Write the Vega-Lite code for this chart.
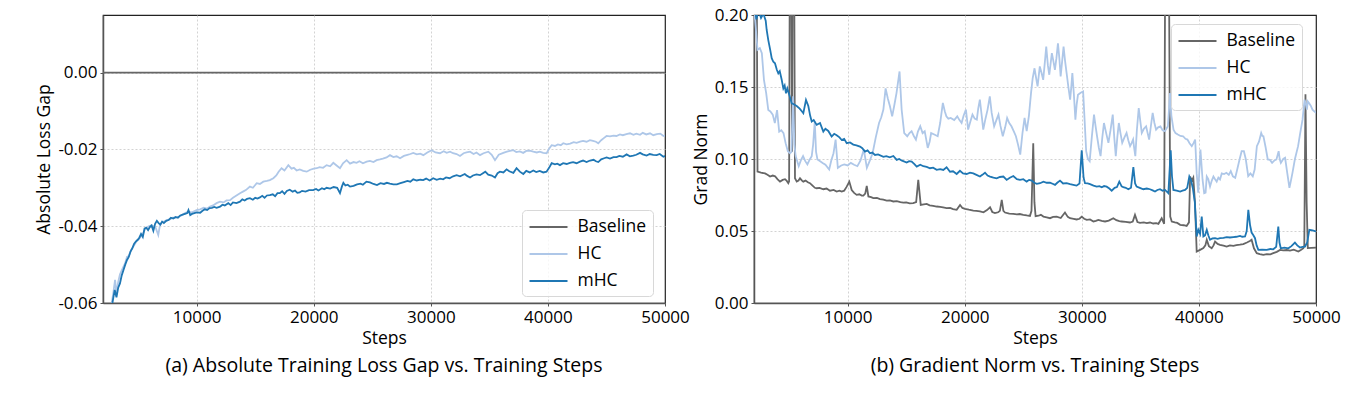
{
 "$schema": "https://vega.github.io/schema/vega-lite/v6.json",
 "background": "white",
 "autosize": {"type": "pad"},
 "padding": {"left": 35, "top": 5, "right": 5, "bottom": 5},
 "bounds": "flush",
 "spacing": 89,
 "config": {
  "font": "Open Sans",
  "view": {"stroke": "#222", "strokeWidth": 1.2},
  "axis": {"labelFontSize": 17, "titleFontSize": 17.5, "titleFontWeight": "normal", "labelColor": "#000", "titleColor": "#000", "domainColor": "#555", "domainWidth": 1.5, "tickColor": "#555", "tickSize": 3, "labelPadding": 3, "gridColor": "#c8c8c8", "gridDash": [2, 2], "gridWidth": 0.8},
  "legend": {"labelFontSize": 17.5, "labelColor": "#000", "fillColor": "rgba(255,255,255,0.8)", "strokeColor": "#d8d8d8", "cornerRadius": 4, "padding": 6, "rowPadding": 7, "symbolType": "M-2,0H2", "symbolSize": 361, "symbolStrokeWidth": 2.2, "symbolOffset": 9.5, "labelOffset": 18, "title": null}
 },
 "datasets": {
  "loss": [
   {"s":2000,"g":"Baseline","v":0},{"s":50000,"g":"Baseline","v":0},
   {"s":2750,"g":"HC","v":-0.060},{"s":2900,"g":"HC","v":-0.057},{"s":3030,"g":"HC","v":-0.054},{"s":3150,"g":"HC","v":-0.0575},{"s":3300,"g":"HC","v":-0.0545},{"s":3450,"g":"HC","v":-0.0525},{"s":3600,"g":"HC","v":-0.0515},{"s":3750,"g":"HC","v":-0.0505},{"s":3880,"g":"HC","v":-0.0497},{"s":4050,"g":"HC","v":-0.048},{"s":4200,"g":"HC","v":-0.0478},{"s":4400,"g":"HC","v":-0.0462},{"s":4590,"g":"HC","v":-0.0453},{"s":4750,"g":"HC","v":-0.0445},{"s":4900,"g":"HC","v":-0.0437},{"s":5050,"g":"HC","v":-0.0434},{"s":5200,"g":"HC","v":-0.0428},{"s":5400,"g":"HC","v":-0.042},{"s":5550,"g":"HC","v":-0.041},{"s":5700,"g":"HC","v":-0.0404},{"s":5900,"g":"HC","v":-0.04},{"s":6100,"g":"HC","v":-0.0398},{"s":6300,"g":"HC","v":-0.04},{"s":6500,"g":"HC","v":-0.0404},{"s":6720,"g":"HC","v":-0.0423},{"s":6850,"g":"HC","v":-0.04},{"s":7000,"g":"HC","v":-0.039},{"s":7200,"g":"HC","v":-0.0388},{"s":7440,"g":"HC","v":-0.0384},{"s":7700,"g":"HC","v":-0.0382},{"s":7950,"g":"HC","v":-0.0378},{"s":8200,"g":"HC","v":-0.0378},{"s":8450,"g":"HC","v":-0.0376},{"s":8700,"g":"HC","v":-0.0372},{"s":9000,"g":"HC","v":-0.0366},{"s":9300,"g":"HC","v":-0.0362},{"s":9600,"g":"HC","v":-0.0364},{"s":9990,"g":"HC","v":-0.0358},{"s":10300,"g":"HC","v":-0.0356},{"s":10600,"g":"HC","v":-0.0352},{"s":10900,"g":"HC","v":-0.0354},{"s":11140,"g":"HC","v":-0.0349},{"s":11400,"g":"HC","v":-0.0346},{"s":11700,"g":"HC","v":-0.034},{"s":11990,"g":"HC","v":-0.0336},{"s":12300,"g":"HC","v":-0.0338},{"s":12550,"g":"HC","v":-0.0333},{"s":12850,"g":"HC","v":-0.0332},{"s":13100,"g":"HC","v":-0.0326},{"s":13400,"g":"HC","v":-0.032},{"s":13700,"g":"HC","v":-0.0314},{"s":13950,"g":"HC","v":-0.031},{"s":14200,"g":"HC","v":-0.0306},{"s":14550,"g":"HC","v":-0.0297},{"s":14800,"g":"HC","v":-0.03},{"s":15130,"g":"HC","v":-0.0288},{"s":15400,"g":"HC","v":-0.029},{"s":15690,"g":"HC","v":-0.0284},{"s":16000,"g":"HC","v":-0.0282},{"s":16250,"g":"HC","v":-0.028},{"s":16550,"g":"HC","v":-0.0275},{"s":16800,"g":"HC","v":-0.0268},{"s":17000,"g":"HC","v":-0.0258},{"s":17250,"g":"HC","v":-0.0249},{"s":17500,"g":"HC","v":-0.0255},{"s":17830,"g":"HC","v":-0.0241},{"s":18100,"g":"HC","v":-0.025},{"s":18300,"g":"HC","v":-0.0248},{"s":18540,"g":"HC","v":-0.0255},{"s":18800,"g":"HC","v":-0.0252},{"s":19100,"g":"HC","v":-0.0256},{"s":19400,"g":"HC","v":-0.0258},{"s":19700,"g":"HC","v":-0.0253},{"s":20000,"g":"HC","v":-0.025},{"s":20250,"g":"HC","v":-0.0249},{"s":20500,"g":"HC","v":-0.0246},{"s":20800,"g":"HC","v":-0.0248},{"s":21100,"g":"HC","v":-0.0241},{"s":21400,"g":"HC","v":-0.0244},{"s":21670,"g":"HC","v":-0.0235},{"s":21950,"g":"HC","v":-0.0242},{"s":22240,"g":"HC","v":-0.0249},{"s":22500,"g":"HC","v":-0.0236},{"s":22810,"g":"HC","v":-0.0228},{"s":23100,"g":"HC","v":-0.0237},{"s":23400,"g":"HC","v":-0.0233},{"s":23660,"g":"HC","v":-0.0235},{"s":23900,"g":"HC","v":-0.0231},{"s":24200,"g":"HC","v":-0.0236},{"s":24520,"g":"HC","v":-0.0232},{"s":24800,"g":"HC","v":-0.023},{"s":25100,"g":"HC","v":-0.0233},{"s":25370,"g":"HC","v":-0.0228},{"s":25650,"g":"HC","v":-0.0226},{"s":25900,"g":"HC","v":-0.0224},{"s":26220,"g":"HC","v":-0.0221},{"s":26510,"g":"HC","v":-0.0215},{"s":26800,"g":"HC","v":-0.022},{"s":27080,"g":"HC","v":-0.0218},{"s":27370,"g":"HC","v":-0.0223},{"s":27700,"g":"HC","v":-0.0217},{"s":28000,"g":"HC","v":-0.0214},{"s":28250,"g":"HC","v":-0.0212},{"s":28500,"g":"HC","v":-0.0209},{"s":28800,"g":"HC","v":-0.0213},{"s":29100,"g":"HC","v":-0.0211},{"s":29360,"g":"HC","v":-0.0215},{"s":29700,"g":"HC","v":-0.0208},{"s":30070,"g":"HC","v":-0.0202},{"s":30400,"g":"HC","v":-0.0208},{"s":30780,"g":"HC","v":-0.021},{"s":31100,"g":"HC","v":-0.0205},{"s":31350,"g":"HC","v":-0.0209},{"s":31640,"g":"HC","v":-0.0206},{"s":31900,"g":"HC","v":-0.021},{"s":32200,"g":"HC","v":-0.0212},{"s":32490,"g":"HC","v":-0.0217},{"s":32800,"g":"HC","v":-0.021},{"s":33050,"g":"HC","v":-0.0208},{"s":33350,"g":"HC","v":-0.0206},{"s":33650,"g":"HC","v":-0.0212},{"s":33900,"g":"HC","v":-0.0208},{"s":34200,"g":"HC","v":-0.0215},{"s":34500,"g":"HC","v":-0.021},{"s":34910,"g":"HC","v":-0.0206},{"s":35200,"g":"HC","v":-0.0214},{"s":35480,"g":"HC","v":-0.0228},{"s":35800,"g":"HC","v":-0.0214},{"s":36190,"g":"HC","v":-0.0209},{"s":36500,"g":"HC","v":-0.0206},{"s":36750,"g":"HC","v":-0.0204},{"s":37050,"g":"HC","v":-0.0202},{"s":37300,"g":"HC","v":-0.0207},{"s":37600,"g":"HC","v":-0.0205},{"s":37890,"g":"HC","v":-0.0209},{"s":38150,"g":"HC","v":-0.0204},{"s":38450,"g":"HC","v":-0.0203},{"s":38750,"g":"HC","v":-0.0206},{"s":39050,"g":"HC","v":-0.0208},{"s":39300,"g":"HC","v":-0.0206},{"s":39600,"g":"HC","v":-0.0209},{"s":39890,"g":"HC","v":-0.021},{"s":40100,"g":"HC","v":-0.0198},{"s":40320,"g":"HC","v":-0.0189},{"s":40600,"g":"HC","v":-0.0191},{"s":40850,"g":"HC","v":-0.0187},{"s":41100,"g":"HC","v":-0.0189},{"s":41310,"g":"HC","v":-0.0184},{"s":41600,"g":"HC","v":-0.0187},{"s":41900,"g":"HC","v":-0.0185},{"s":42200,"g":"HC","v":-0.0181},{"s":42450,"g":"HC","v":-0.0183},{"s":42750,"g":"HC","v":-0.018},{"s":43000,"g":"HC","v":-0.0178},{"s":43300,"g":"HC","v":-0.018},{"s":43590,"g":"HC","v":-0.0176},{"s":43850,"g":"HC","v":-0.0178},{"s":44100,"g":"HC","v":-0.018},{"s":44300,"g":"HC","v":-0.0184},{"s":44550,"g":"HC","v":-0.0176},{"s":44800,"g":"HC","v":-0.017},{"s":45010,"g":"HC","v":-0.0165},{"s":45300,"g":"HC","v":-0.0166},{"s":45600,"g":"HC","v":-0.0164},{"s":45850,"g":"HC","v":-0.0165},{"s":46150,"g":"HC","v":-0.0161},{"s":46400,"g":"HC","v":-0.0163},{"s":46700,"g":"HC","v":-0.016},{"s":47010,"g":"HC","v":-0.0158},{"s":47300,"g":"HC","v":-0.0162},{"s":47550,"g":"HC","v":-0.0159},{"s":47870,"g":"HC","v":-0.0162},{"s":48100,"g":"HC","v":-0.0157},{"s":48400,"g":"HC","v":-0.0161},{"s":48720,"g":"HC","v":-0.0158},{"s":49000,"g":"HC","v":-0.0163},{"s":49300,"g":"HC","v":-0.016},{"s":49600,"g":"HC","v":-0.0159},{"s":49860,"g":"HC","v":-0.0165},{"s":50000,"g":"HC","v":-0.0163},
   {"s":2700,"g":"mHC","v":-0.062},{"s":2850,"g":"mHC","v":-0.0592},{"s":3000,"g":"mHC","v":-0.0566},{"s":3150,"g":"mHC","v":-0.0585},{"s":3300,"g":"mHC","v":-0.056},{"s":3450,"g":"mHC","v":-0.0549},{"s":3600,"g":"mHC","v":-0.0528},{"s":3750,"g":"mHC","v":-0.0514},{"s":3900,"g":"mHC","v":-0.05},{"s":4050,"g":"mHC","v":-0.0488},{"s":4200,"g":"mHC","v":-0.048},{"s":4350,"g":"mHC","v":-0.0466},{"s":4500,"g":"mHC","v":-0.0458},{"s":4650,"g":"mHC","v":-0.0446},{"s":4800,"g":"mHC","v":-0.044},{"s":4950,"g":"mHC","v":-0.0436},{"s":5100,"g":"mHC","v":-0.043},{"s":5250,"g":"mHC","v":-0.042},{"s":5400,"g":"mHC","v":-0.0428},{"s":5550,"g":"mHC","v":-0.0406},{"s":5700,"g":"mHC","v":-0.0404},{"s":5850,"g":"mHC","v":-0.041},{"s":6000,"g":"mHC","v":-0.0402},{"s":6150,"g":"mHC","v":-0.0398},{"s":6300,"g":"mHC","v":-0.0412},{"s":6450,"g":"mHC","v":-0.0394},{"s":6600,"g":"mHC","v":-0.0386},{"s":6750,"g":"mHC","v":-0.0392},{"s":6900,"g":"mHC","v":-0.0396},{"s":7050,"g":"mHC","v":-0.0388},{"s":7200,"g":"mHC","v":-0.0392},{"s":7400,"g":"mHC","v":-0.0386},{"s":7600,"g":"mHC","v":-0.0384},{"s":7800,"g":"mHC","v":-0.0378},{"s":8000,"g":"mHC","v":-0.038},{"s":8200,"g":"mHC","v":-0.0376},{"s":8400,"g":"mHC","v":-0.0378},{"s":8600,"g":"mHC","v":-0.0372},{"s":8800,"g":"mHC","v":-0.037},{"s":9000,"g":"mHC","v":-0.0368},{"s":9200,"g":"mHC","v":-0.0366},{"s":9300,"g":"mHC","v":-0.0358},{"s":9450,"g":"mHC","v":-0.0371},{"s":9600,"g":"mHC","v":-0.0368},{"s":9800,"g":"mHC","v":-0.0366},{"s":10000,"g":"mHC","v":-0.0364},{"s":10300,"g":"mHC","v":-0.0365},{"s":10500,"g":"mHC","v":-0.036},{"s":10700,"g":"mHC","v":-0.0356},{"s":10900,"g":"mHC","v":-0.0358},{"s":11100,"g":"mHC","v":-0.0353},{"s":11300,"g":"mHC","v":-0.0352},{"s":11500,"g":"mHC","v":-0.035},{"s":11700,"g":"mHC","v":-0.0352},{"s":12000,"g":"mHC","v":-0.0349},{"s":12200,"g":"mHC","v":-0.0344},{"s":12400,"g":"mHC","v":-0.0346},{"s":12700,"g":"mHC","v":-0.034},{"s":12900,"g":"mHC","v":-0.0345},{"s":13100,"g":"mHC","v":-0.0338},{"s":13400,"g":"mHC","v":-0.034},{"s":13700,"g":"mHC","v":-0.0336},{"s":13900,"g":"mHC","v":-0.033},{"s":14100,"g":"mHC","v":-0.0333},{"s":14300,"g":"mHC","v":-0.0329},{"s":14550,"g":"mHC","v":-0.0327},{"s":14800,"g":"mHC","v":-0.0331},{"s":15000,"g":"mHC","v":-0.0326},{"s":15200,"g":"mHC","v":-0.0328},{"s":15400,"g":"mHC","v":-0.0325},{"s":15600,"g":"mHC","v":-0.0321},{"s":15800,"g":"mHC","v":-0.0326},{"s":16000,"g":"mHC","v":-0.032},{"s":16250,"g":"mHC","v":-0.0319},{"s":16500,"g":"mHC","v":-0.0317},{"s":16700,"g":"mHC","v":-0.0322},{"s":16900,"g":"mHC","v":-0.0314},{"s":17100,"g":"mHC","v":-0.0314},{"s":17300,"g":"mHC","v":-0.0309},{"s":17500,"g":"mHC","v":-0.0316},{"s":17700,"g":"mHC","v":-0.0308},{"s":17950,"g":"mHC","v":-0.0305},{"s":18200,"g":"mHC","v":-0.031},{"s":18400,"g":"mHC","v":-0.0307},{"s":18600,"g":"mHC","v":-0.0313},{"s":18800,"g":"mHC","v":-0.0312},{"s":19000,"g":"mHC","v":-0.0308},{"s":19300,"g":"mHC","v":-0.031},{"s":19600,"g":"mHC","v":-0.0306},{"s":19950,"g":"mHC","v":-0.0306},{"s":20200,"g":"mHC","v":-0.0303},{"s":20400,"g":"mHC","v":-0.0307},{"s":20700,"g":"mHC","v":-0.0301},{"s":20900,"g":"mHC","v":-0.0304},{"s":21100,"g":"mHC","v":-0.03},{"s":21400,"g":"mHC","v":-0.0302},{"s":21700,"g":"mHC","v":-0.0298},{"s":22000,"g":"mHC","v":-0.03},{"s":22240,"g":"mHC","v":-0.0314},{"s":22400,"g":"mHC","v":-0.0297},{"s":22530,"g":"mHC","v":-0.0287},{"s":22700,"g":"mHC","v":-0.0294},{"s":22900,"g":"mHC","v":-0.0292},{"s":23100,"g":"mHC","v":-0.0297},{"s":23400,"g":"mHC","v":-0.0295},{"s":23700,"g":"mHC","v":-0.0291},{"s":24000,"g":"mHC","v":-0.0289},{"s":24200,"g":"mHC","v":-0.0292},{"s":24500,"g":"mHC","v":-0.0284},{"s":24800,"g":"mHC","v":-0.0286},{"s":25100,"g":"mHC","v":-0.029},{"s":25400,"g":"mHC","v":-0.0293},{"s":25700,"g":"mHC","v":-0.0288},{"s":26000,"g":"mHC","v":-0.029},{"s":26250,"g":"mHC","v":-0.0287},{"s":26500,"g":"mHC","v":-0.0289},{"s":26800,"g":"mHC","v":-0.0291},{"s":27100,"g":"mHC","v":-0.0291},{"s":27400,"g":"mHC","v":-0.0288},{"s":27700,"g":"mHC","v":-0.0285},{"s":28000,"g":"mHC","v":-0.0282},{"s":28250,"g":"mHC","v":-0.0284},{"s":28500,"g":"mHC","v":-0.0278},{"s":28800,"g":"mHC","v":-0.0281},{"s":29100,"g":"mHC","v":-0.0279},{"s":29350,"g":"mHC","v":-0.028},{"s":29600,"g":"mHC","v":-0.0276},{"s":29900,"g":"mHC","v":-0.0281},{"s":30200,"g":"mHC","v":-0.0275},{"s":30500,"g":"mHC","v":-0.0279},{"s":30800,"g":"mHC","v":-0.0276},{"s":31050,"g":"mHC","v":-0.0278},{"s":31300,"g":"mHC","v":-0.0273},{"s":31600,"g":"mHC","v":-0.0275},{"s":31900,"g":"mHC","v":-0.027},{"s":32200,"g":"mHC","v":-0.0267},{"s":32500,"g":"mHC","v":-0.027},{"s":32900,"g":"mHC","v":-0.0264},{"s":33100,"g":"mHC","v":-0.0269},{"s":33350,"g":"mHC","v":-0.0273},{"s":33600,"g":"mHC","v":-0.0268},{"s":33900,"g":"mHC","v":-0.0265},{"s":34200,"g":"mHC","v":-0.0267},{"s":34450,"g":"mHC","v":-0.0262},{"s":34650,"g":"mHC","v":-0.0258},{"s":34900,"g":"mHC","v":-0.0266},{"s":35200,"g":"mHC","v":-0.0268},{"s":35480,"g":"mHC","v":-0.0273},{"s":35700,"g":"mHC","v":-0.0262},{"s":35900,"g":"mHC","v":-0.0258},{"s":36200,"g":"mHC","v":-0.026},{"s":36470,"g":"mHC","v":-0.0252},{"s":36700,"g":"mHC","v":-0.0257},{"s":37050,"g":"mHC","v":-0.0261},{"s":37320,"g":"mHC","v":-0.0249},{"s":37600,"g":"mHC","v":-0.0258},{"s":37900,"g":"mHC","v":-0.0264},{"s":38150,"g":"mHC","v":-0.0256},{"s":38450,"g":"mHC","v":-0.026},{"s":38750,"g":"mHC","v":-0.0255},{"s":39000,"g":"mHC","v":-0.0259},{"s":39300,"g":"mHC","v":-0.0256},{"s":39600,"g":"mHC","v":-0.026},{"s":39880,"g":"mHC","v":-0.0258},{"s":40100,"g":"mHC","v":-0.0248},{"s":40320,"g":"mHC","v":-0.0236},{"s":40600,"g":"mHC","v":-0.0239},{"s":40800,"g":"mHC","v":-0.0237},{"s":41030,"g":"mHC","v":-0.0241},{"s":41300,"g":"mHC","v":-0.0236},{"s":41600,"g":"mHC","v":-0.0238},{"s":41880,"g":"mHC","v":-0.0235},{"s":42150,"g":"mHC","v":-0.0233},{"s":42450,"g":"mHC","v":-0.0236},{"s":42740,"g":"mHC","v":-0.0232},{"s":43000,"g":"mHC","v":-0.0229},{"s":43300,"g":"mHC","v":-0.0233},{"s":43600,"g":"mHC","v":-0.0229},{"s":43900,"g":"mHC","v":-0.0227},{"s":44100,"g":"mHC","v":-0.0231},{"s":44300,"g":"mHC","v":-0.0233},{"s":44550,"g":"mHC","v":-0.0226},{"s":44800,"g":"mHC","v":-0.0223},{"s":45010,"g":"mHC","v":-0.0221},{"s":45300,"g":"mHC","v":-0.0224},{"s":45600,"g":"mHC","v":-0.022},{"s":45870,"g":"mHC","v":-0.022},{"s":46100,"g":"mHC","v":-0.0217},{"s":46400,"g":"mHC","v":-0.0219},{"s":46720,"g":"mHC","v":-0.0213},{"s":47000,"g":"mHC","v":-0.0218},{"s":47290,"g":"mHC","v":-0.0216},{"s":47550,"g":"mHC","v":-0.0214},{"s":47870,"g":"mHC","v":-0.0209},{"s":48100,"g":"mHC","v":-0.0213},{"s":48430,"g":"mHC","v":-0.0216},{"s":48700,"g":"mHC","v":-0.0212},{"s":49000,"g":"mHC","v":-0.0214},{"s":49290,"g":"mHC","v":-0.0215},{"s":49550,"g":"mHC","v":-0.0212},{"s":49860,"g":"mHC","v":-0.0219},{"s":50000,"g":"mHC","v":-0.0217}
  ],
  "grad": [
   {"s":2000,"g":"Baseline","v":0.3},{"s":2200,"g":"Baseline","v":0.3},{"s":2300,"g":"Baseline","v":0.0912},{"s":2600,"g":"Baseline","v":0.0905},{"s":2940,"g":"Baseline","v":0.09},{"s":3150,"g":"Baseline","v":0.089},{"s":3370,"g":"Baseline","v":0.0878},{"s":3600,"g":"Baseline","v":0.0885},{"s":3800,"g":"Baseline","v":0.088},{"s":4000,"g":"Baseline","v":0.086},{"s":4220,"g":"Baseline","v":0.0843},{"s":4450,"g":"Baseline","v":0.0855},{"s":4650,"g":"Baseline","v":0.086},{"s":4800,"g":"Baseline","v":0.0848},{"s":4930,"g":"Baseline","v":0.0832},{"s":5000,"g":"Baseline","v":0.0845},{"s":5080,"g":"Baseline","v":0.3},{"s":5150,"g":"Baseline","v":0.3},{"s":5250,"g":"Baseline","v":0.105},{"s":5320,"g":"Baseline","v":0.3},{"s":5400,"g":"Baseline","v":0.3},{"s":5500,"g":"Baseline","v":0.0866},{"s":5650,"g":"Baseline","v":0.0843},{"s":5800,"g":"Baseline","v":0.085},{"s":5930,"g":"Baseline","v":0.0866},{"s":6100,"g":"Baseline","v":0.085},{"s":6210,"g":"Baseline","v":0.0843},{"s":6400,"g":"Baseline","v":0.085},{"s":6600,"g":"Baseline","v":0.0838},{"s":6780,"g":"Baseline","v":0.0832},{"s":7000,"g":"Baseline","v":0.0815},{"s":7200,"g":"Baseline","v":0.08},{"s":7350,"g":"Baseline","v":0.0797},{"s":7600,"g":"Baseline","v":0.08},{"s":7920,"g":"Baseline","v":0.079},{"s":8200,"g":"Baseline","v":0.0795},{"s":8490,"g":"Baseline","v":0.078},{"s":8800,"g":"Baseline","v":0.0785},{"s":9060,"g":"Baseline","v":0.0774},{"s":9300,"g":"Baseline","v":0.078},{"s":9490,"g":"Baseline","v":0.0774},{"s":9700,"g":"Baseline","v":0.078},{"s":9920,"g":"Baseline","v":0.0808},{"s":10140,"g":"Baseline","v":0.0843},{"s":10345,"g":"Baseline","v":0.0785},{"s":10550,"g":"Baseline","v":0.0765},{"s":10770,"g":"Baseline","v":0.0751},{"s":11000,"g":"Baseline","v":0.0755},{"s":11200,"g":"Baseline","v":0.0746},{"s":11340,"g":"Baseline","v":0.0746},{"s":11500,"g":"Baseline","v":0.076},{"s":11630,"g":"Baseline","v":0.0813},{"s":11770,"g":"Baseline","v":0.074},{"s":12000,"g":"Baseline","v":0.0735},{"s":12190,"g":"Baseline","v":0.0728},{"s":12500,"g":"Baseline","v":0.073},{"s":12760,"g":"Baseline","v":0.0722},{"s":13050,"g":"Baseline","v":0.0718},{"s":13330,"g":"Baseline","v":0.0711},{"s":13600,"g":"Baseline","v":0.0712},{"s":13900,"g":"Baseline","v":0.0705},{"s":14200,"g":"Baseline","v":0.0708},{"s":14500,"g":"Baseline","v":0.07},{"s":14750,"g":"Baseline","v":0.0697},{"s":15000,"g":"Baseline","v":0.0699},{"s":15300,"g":"Baseline","v":0.0692},{"s":15600,"g":"Baseline","v":0.0693},{"s":15850,"g":"Baseline","v":0.07},{"s":16030,"g":"Baseline","v":0.0855},{"s":16240,"g":"Baseline","v":0.0681},{"s":16500,"g":"Baseline","v":0.0685},{"s":16750,"g":"Baseline","v":0.0688},{"s":17000,"g":"Baseline","v":0.0678},{"s":17300,"g":"Baseline","v":0.0675},{"s":17600,"g":"Baseline","v":0.067},{"s":17900,"g":"Baseline","v":0.0668},{"s":18150,"g":"Baseline","v":0.0664},{"s":18450,"g":"Baseline","v":0.0659},{"s":18750,"g":"Baseline","v":0.066},{"s":19000,"g":"Baseline","v":0.0652},{"s":19310,"g":"Baseline","v":0.0647},{"s":19600,"g":"Baseline","v":0.0681},{"s":19800,"g":"Baseline","v":0.066},{"s":20020,"g":"Baseline","v":0.0654},{"s":20350,"g":"Baseline","v":0.0648},{"s":20730,"g":"Baseline","v":0.0642},{"s":21000,"g":"Baseline","v":0.064},{"s":21300,"g":"Baseline","v":0.0636},{"s":21600,"g":"Baseline","v":0.063},{"s":21900,"g":"Baseline","v":0.0645},{"s":22160,"g":"Baseline","v":0.0665},{"s":22350,"g":"Baseline","v":0.0632},{"s":22580,"g":"Baseline","v":0.0624},{"s":22850,"g":"Baseline","v":0.063},{"s":23000,"g":"Baseline","v":0.064},{"s":23160,"g":"Baseline","v":0.0716},{"s":23300,"g":"Baseline","v":0.064},{"s":23440,"g":"Baseline","v":0.0628},{"s":23800,"g":"Baseline","v":0.062},{"s":24150,"g":"Baseline","v":0.0619},{"s":24450,"g":"Baseline","v":0.0615},{"s":24700,"g":"Baseline","v":0.0618},{"s":25000,"g":"Baseline","v":0.0612},{"s":25300,"g":"Baseline","v":0.0608},{"s":25570,"g":"Baseline","v":0.0605},{"s":25700,"g":"Baseline","v":0.064},{"s":25850,"g":"Baseline","v":0.111},{"s":25950,"g":"Baseline","v":0.07},{"s":26050,"g":"Baseline","v":0.0603},{"s":26300,"g":"Baseline","v":0.0606},{"s":26500,"g":"Baseline","v":0.0612},{"s":26720,"g":"Baseline","v":0.06},{"s":27000,"g":"Baseline","v":0.0595},{"s":27280,"g":"Baseline","v":0.0589},{"s":27550,"g":"Baseline","v":0.0598},{"s":27850,"g":"Baseline","v":0.06},{"s":28200,"g":"Baseline","v":0.059},{"s":28560,"g":"Baseline","v":0.0628},{"s":28800,"g":"Baseline","v":0.0598},{"s":28990,"g":"Baseline","v":0.0589},{"s":29300,"g":"Baseline","v":0.0585},{"s":29560,"g":"Baseline","v":0.058},{"s":29800,"g":"Baseline","v":0.0585},{"s":29990,"g":"Baseline","v":0.06},{"s":30200,"g":"Baseline","v":0.0585},{"s":30420,"g":"Baseline","v":0.0577},{"s":30700,"g":"Baseline","v":0.058},{"s":30990,"g":"Baseline","v":0.0566},{"s":31200,"g":"Baseline","v":0.057},{"s":31410,"g":"Baseline","v":0.0577},{"s":31700,"g":"Baseline","v":0.057},{"s":31980,"g":"Baseline","v":0.0566},{"s":32300,"g":"Baseline","v":0.0572},{"s":32690,"g":"Baseline","v":0.0589},{"s":32950,"g":"Baseline","v":0.0575},{"s":33200,"g":"Baseline","v":0.0568},{"s":33400,"g":"Baseline","v":0.0566},{"s":33750,"g":"Baseline","v":0.0563},{"s":34110,"g":"Baseline","v":0.0559},{"s":34350,"g":"Baseline","v":0.0565},{"s":34540,"g":"Baseline","v":0.0612},{"s":34750,"g":"Baseline","v":0.0562},{"s":34970,"g":"Baseline","v":0.0556},{"s":35300,"g":"Baseline","v":0.056},{"s":35550,"g":"Baseline","v":0.0555},{"s":35820,"g":"Baseline","v":0.0559},{"s":36100,"g":"Baseline","v":0.0552},{"s":36350,"g":"Baseline","v":0.0555},{"s":36540,"g":"Baseline","v":0.055},{"s":36820,"g":"Baseline","v":0.0589},{"s":37030,"g":"Baseline","v":0.055},{"s":37150,"g":"Baseline","v":0.3},{"s":37400,"g":"Baseline","v":0.3},{"s":37550,"g":"Baseline","v":0.06},{"s":37680,"g":"Baseline","v":0.0566},{"s":37950,"g":"Baseline","v":0.056},{"s":38150,"g":"Baseline","v":0.0556},{"s":38400,"g":"Baseline","v":0.0543},{"s":38700,"g":"Baseline","v":0.054},{"s":38950,"g":"Baseline","v":0.0535},{"s":39150,"g":"Baseline","v":0.056},{"s":39250,"g":"Baseline","v":0.0878},{"s":39400,"g":"Baseline","v":0.085},{"s":39520,"g":"Baseline","v":0.087},{"s":39660,"g":"Baseline","v":0.07},{"s":39810,"g":"Baseline","v":0.0357},{"s":40100,"g":"Baseline","v":0.0369},{"s":40380,"g":"Baseline","v":0.0381},{"s":40550,"g":"Baseline","v":0.04},{"s":40670,"g":"Baseline","v":0.0439},{"s":40850,"g":"Baseline","v":0.0395},{"s":41090,"g":"Baseline","v":0.0381},{"s":41250,"g":"Baseline","v":0.04},{"s":41380,"g":"Baseline","v":0.0427},{"s":41600,"g":"Baseline","v":0.041},{"s":41800,"g":"Baseline","v":0.0404},{"s":42100,"g":"Baseline","v":0.0398},{"s":42370,"g":"Baseline","v":0.0392},{"s":42650,"g":"Baseline","v":0.04},{"s":42940,"g":"Baseline","v":0.0397},{"s":43200,"g":"Baseline","v":0.0402},{"s":43500,"g":"Baseline","v":0.0405},{"s":43790,"g":"Baseline","v":0.0409},{"s":44100,"g":"Baseline","v":0.042},{"s":44350,"g":"Baseline","v":0.043},{"s":44500,"g":"Baseline","v":0.0439},{"s":44700,"g":"Baseline","v":0.038},{"s":44940,"g":"Baseline","v":0.0346},{"s":45200,"g":"Baseline","v":0.034},{"s":45500,"g":"Baseline","v":0.0334},{"s":45800,"g":"Baseline","v":0.034},{"s":46100,"g":"Baseline","v":0.0338},{"s":46350,"g":"Baseline","v":0.0346},{"s":46650,"g":"Baseline","v":0.0355},{"s":46930,"g":"Baseline","v":0.0369},{"s":47200,"g":"Baseline","v":0.0365},{"s":47500,"g":"Baseline","v":0.0368},{"s":47780,"g":"Baseline","v":0.0364},{"s":48100,"g":"Baseline","v":0.037},{"s":48490,"g":"Baseline","v":0.0357},{"s":48700,"g":"Baseline","v":0.0368},{"s":48920,"g":"Baseline","v":0.0381},{"s":49000,"g":"Baseline","v":0.04},{"s":49100,"g":"Baseline","v":0.145},{"s":49200,"g":"Baseline","v":0.07},{"s":49300,"g":"Baseline","v":0.0381},{"s":49600,"g":"Baseline","v":0.0383},{"s":50000,"g":"Baseline","v":0.0385},
   {"s":2000,"g":"HC","v":0.2},{"s":2100,"g":"HC","v":0.1965},{"s":2300,"g":"HC","v":0.1758},{"s":2500,"g":"HC","v":0.177},{"s":2670,"g":"HC","v":0.1735},{"s":2850,"g":"HC","v":0.155},{"s":3040,"g":"HC","v":0.1458},{"s":3220,"g":"HC","v":0.134},{"s":3400,"g":"HC","v":0.133},{"s":3600,"g":"HC","v":0.1308},{"s":3780,"g":"HC","v":0.125},{"s":3970,"g":"HC","v":0.134},{"s":4150,"g":"HC","v":0.119},{"s":4330,"g":"HC","v":0.12},{"s":4520,"g":"HC","v":0.118},{"s":4700,"g":"HC","v":0.111},{"s":4890,"g":"HC","v":0.1054},{"s":5080,"g":"HC","v":0.104},{"s":5200,"g":"HC","v":0.105},{"s":5340,"g":"HC","v":0.1435},{"s":5450,"g":"HC","v":0.11},{"s":5560,"g":"HC","v":0.102},{"s":5820,"g":"HC","v":0.095},{"s":6000,"g":"HC","v":0.099},{"s":6190,"g":"HC","v":0.102},{"s":6380,"g":"HC","v":0.0985},{"s":6560,"g":"HC","v":0.0962},{"s":6750,"g":"HC","v":0.0995},{"s":6930,"g":"HC","v":0.102},{"s":7050,"g":"HC","v":0.11},{"s":7190,"g":"HC","v":0.1262},{"s":7300,"g":"HC","v":0.105},{"s":7420,"g":"HC","v":0.0997},{"s":7650,"g":"HC","v":0.0985},{"s":7860,"g":"HC","v":0.0973},{"s":8100,"g":"HC","v":0.096},{"s":8420,"g":"HC","v":0.0927},{"s":8600,"g":"HC","v":0.099},{"s":8790,"g":"HC","v":0.104},{"s":8970,"g":"HC","v":0.1135},{"s":9160,"g":"HC","v":0.0939},{"s":9450,"g":"HC","v":0.0955},{"s":9710,"g":"HC","v":0.0962},{"s":10000,"g":"HC","v":0.0955},{"s":10270,"g":"HC","v":0.0973},{"s":10550,"g":"HC","v":0.096},{"s":10830,"g":"HC","v":0.095},{"s":11100,"g":"HC","v":0.099},{"s":11380,"g":"HC","v":0.1066},{"s":11640,"g":"HC","v":0.0939},{"s":11900,"g":"HC","v":0.099},{"s":12130,"g":"HC","v":0.104},{"s":12400,"g":"HC","v":0.115},{"s":12680,"g":"HC","v":0.125},{"s":12870,"g":"HC","v":0.129},{"s":13050,"g":"HC","v":0.1343},{"s":13240,"g":"HC","v":0.149},{"s":13430,"g":"HC","v":0.142},{"s":13610,"g":"HC","v":0.1366},{"s":13800,"g":"HC","v":0.1296},{"s":14000,"g":"HC","v":0.138},{"s":14170,"g":"HC","v":0.1458},{"s":14430,"g":"HC","v":0.1608},{"s":14610,"g":"HC","v":0.1343},{"s":14830,"g":"HC","v":0.118},{"s":15090,"g":"HC","v":0.1158},{"s":15280,"g":"HC","v":0.118},{"s":15460,"g":"HC","v":0.1193},{"s":15650,"g":"HC","v":0.116},{"s":15830,"g":"HC","v":0.1135},{"s":16000,"g":"HC","v":0.119},{"s":16200,"g":"HC","v":0.1227},{"s":16400,"g":"HC","v":0.118},{"s":16580,"g":"HC","v":0.1193},{"s":16840,"g":"HC","v":0.1077},{"s":17000,"g":"HC","v":0.112},{"s":17130,"g":"HC","v":0.118},{"s":17400,"g":"HC","v":0.117},{"s":17690,"g":"HC","v":0.1158},{"s":17900,"g":"HC","v":0.125},{"s":18130,"g":"HC","v":0.1389},{"s":18300,"g":"HC","v":0.133},{"s":18430,"g":"HC","v":0.1296},{"s":18600,"g":"HC","v":0.128},{"s":18800,"g":"HC","v":0.1285},{"s":19100,"g":"HC","v":0.127},{"s":19360,"g":"HC","v":0.1296},{"s":19550,"g":"HC","v":0.127},{"s":19730,"g":"HC","v":0.125},{"s":19900,"g":"HC","v":0.13},{"s":20100,"g":"HC","v":0.1343},{"s":20290,"g":"HC","v":0.1204},{"s":20480,"g":"HC","v":0.126},{"s":20660,"g":"HC","v":0.1308},{"s":20850,"g":"HC","v":0.128},{"s":21030,"g":"HC","v":0.1273},{"s":21150,"g":"HC","v":0.135},{"s":21290,"g":"HC","v":0.1412},{"s":21450,"g":"HC","v":0.13},{"s":21580,"g":"HC","v":0.1204},{"s":21770,"g":"HC","v":0.128},{"s":21950,"g":"HC","v":0.1343},{"s":22140,"g":"HC","v":0.1435},{"s":22300,"g":"HC","v":0.132},{"s":22510,"g":"HC","v":0.1227},{"s":22700,"g":"HC","v":0.127},{"s":22880,"g":"HC","v":0.1308},{"s":23050,"g":"HC","v":0.123},{"s":23250,"g":"HC","v":0.1158},{"s":23450,"g":"HC","v":0.122},{"s":23620,"g":"HC","v":0.1285},{"s":23800,"g":"HC","v":0.125},{"s":23990,"g":"HC","v":0.1227},{"s":24200,"g":"HC","v":0.119},{"s":24370,"g":"HC","v":0.1158},{"s":24550,"g":"HC","v":0.11},{"s":24740,"g":"HC","v":0.1031},{"s":24930,"g":"HC","v":0.118},{"s":25110,"g":"HC","v":0.1285},{"s":25290,"g":"HC","v":0.1193},{"s":25480,"g":"HC","v":0.13},{"s":25660,"g":"HC","v":0.1458},{"s":25800,"g":"HC","v":0.156},{"s":25960,"g":"HC","v":0.163},{"s":26100,"g":"HC","v":0.156},{"s":26220,"g":"HC","v":0.1504},{"s":26410,"g":"HC","v":0.1643},{"s":26550,"g":"HC","v":0.16},{"s":26700,"g":"HC","v":0.155},{"s":26850,"g":"HC","v":0.168},{"s":26960,"g":"HC","v":0.178},{"s":27100,"g":"HC","v":0.165},{"s":27220,"g":"HC","v":0.1585},{"s":27440,"g":"HC","v":0.1735},{"s":27570,"g":"HC","v":0.168},{"s":27700,"g":"HC","v":0.1619},{"s":27830,"g":"HC","v":0.17},{"s":27960,"g":"HC","v":0.1804},{"s":28080,"g":"HC","v":0.17},{"s":28190,"g":"HC","v":0.1573},{"s":28320,"g":"HC","v":0.168},{"s":28440,"g":"HC","v":0.178},{"s":28570,"g":"HC","v":0.168},{"s":28700,"g":"HC","v":0.1596},{"s":28850,"g":"HC","v":0.15},{"s":29000,"g":"HC","v":0.1412},{"s":29100,"g":"HC","v":0.15},{"s":29190,"g":"HC","v":0.1596},{"s":29320,"g":"HC","v":0.145},{"s":29450,"g":"HC","v":0.1273},{"s":29560,"g":"HC","v":0.138},{"s":29670,"g":"HC","v":0.1446},{"s":29900,"g":"HC","v":0.146},{"s":30110,"g":"HC","v":0.1469},{"s":30250,"g":"HC","v":0.125},{"s":30370,"g":"HC","v":0.1054},{"s":30520,"g":"HC","v":0.1},{"s":30670,"g":"HC","v":0.0985},{"s":30850,"g":"HC","v":0.115},{"s":31040,"g":"HC","v":0.1308},{"s":31170,"g":"HC","v":0.123},{"s":31300,"g":"HC","v":0.1158},{"s":31450,"g":"HC","v":0.108},{"s":31600,"g":"HC","v":0.102},{"s":31750,"g":"HC","v":0.115},{"s":31890,"g":"HC","v":0.125},{"s":32080,"g":"HC","v":0.118},{"s":32270,"g":"HC","v":0.1112},{"s":32450,"g":"HC","v":0.12},{"s":32640,"g":"HC","v":0.1308},{"s":32770,"g":"HC","v":0.115},{"s":32900,"g":"HC","v":0.102},{"s":33030,"g":"HC","v":0.115},{"s":33160,"g":"HC","v":0.125},{"s":33300,"g":"HC","v":0.118},{"s":33450,"g":"HC","v":0.1112},{"s":33640,"g":"HC","v":0.115},{"s":33820,"g":"HC","v":0.1181},{"s":33970,"g":"HC","v":0.113},{"s":34120,"g":"HC","v":0.1089},{"s":34250,"g":"HC","v":0.111},{"s":34380,"g":"HC","v":0.1135},{"s":34480,"g":"HC","v":0.107},{"s":34570,"g":"HC","v":0.102},{"s":34700,"g":"HC","v":0.12},{"s":34860,"g":"HC","v":0.1354},{"s":35000,"g":"HC","v":0.126},{"s":35120,"g":"HC","v":0.1181},{"s":35300,"g":"HC","v":0.121},{"s":35490,"g":"HC","v":0.1227},{"s":35620,"g":"HC","v":0.118},{"s":35750,"g":"HC","v":0.1135},{"s":35900,"g":"HC","v":0.123},{"s":36050,"g":"HC","v":0.132},{"s":36200,"g":"HC","v":0.125},{"s":36340,"g":"HC","v":0.1204},{"s":36520,"g":"HC","v":0.122},{"s":36710,"g":"HC","v":0.1227},{"s":36900,"g":"HC","v":0.12},{"s":37090,"g":"HC","v":0.1193},{"s":37220,"g":"HC","v":0.121},{"s":37350,"g":"HC","v":0.1227},{"s":37450,"g":"HC","v":0.135},{"s":37530,"g":"HC","v":0.1458},{"s":37650,"g":"HC","v":0.13},{"s":37830,"g":"HC","v":0.1204},{"s":38000,"g":"HC","v":0.118},{"s":38200,"g":"HC","v":0.117},{"s":38420,"g":"HC","v":0.116},{"s":38650,"g":"HC","v":0.1158},{"s":38850,"g":"HC","v":0.114},{"s":39020,"g":"HC","v":0.1135},{"s":39200,"g":"HC","v":0.111},{"s":39390,"g":"HC","v":0.1089},{"s":39540,"g":"HC","v":0.111},{"s":39680,"g":"HC","v":0.1135},{"s":39810,"g":"HC","v":0.09},{"s":39940,"g":"HC","v":0.0766},{"s":40130,"g":"HC","v":0.1066},{"s":40310,"g":"HC","v":0.0858},{"s":40450,"g":"HC","v":0.0762},{"s":40570,"g":"HC","v":0.0766},{"s":40670,"g":"HC","v":0.0878},{"s":40800,"g":"HC","v":0.086},{"s":40950,"g":"HC","v":0.0809},{"s":41100,"g":"HC","v":0.085},{"s":41240,"g":"HC","v":0.0878},{"s":41380,"g":"HC","v":0.086},{"s":41520,"g":"HC","v":0.0843},{"s":41660,"g":"HC","v":0.087},{"s":41800,"g":"HC","v":0.0858},{"s":41950,"g":"HC","v":0.09},{"s":42150,"g":"HC","v":0.0895},{"s":42350,"g":"HC","v":0.0904},{"s":42550,"g":"HC","v":0.089},{"s":42720,"g":"HC","v":0.0916},{"s":42900,"g":"HC","v":0.088},{"s":43100,"g":"HC","v":0.087},{"s":43250,"g":"HC","v":0.092},{"s":43470,"g":"HC","v":0.0997},{"s":43650,"g":"HC","v":0.1054},{"s":43840,"g":"HC","v":0.1054},{"s":44000,"g":"HC","v":0.1},{"s":44210,"g":"HC","v":0.0881},{"s":44400,"g":"HC","v":0.09},{"s":44600,"g":"HC","v":0.088},{"s":44760,"g":"HC","v":0.0927},{"s":44950,"g":"HC","v":0.1089},{"s":45130,"g":"HC","v":0.112},{"s":45320,"g":"HC","v":0.1181},{"s":45420,"g":"HC","v":0.116},{"s":45510,"g":"HC","v":0.1158},{"s":45700,"g":"HC","v":0.108},{"s":45880,"g":"HC","v":0.0997},{"s":46070,"g":"HC","v":0.0994},{"s":46250,"g":"HC","v":0.0973},{"s":46450,"g":"HC","v":0.099},{"s":46620,"g":"HC","v":0.0997},{"s":46810,"g":"HC","v":0.1054},{"s":46900,"g":"HC","v":0.1},{"s":47000,"g":"HC","v":0.0973},{"s":47200,"g":"HC","v":0.1},{"s":47360,"g":"HC","v":0.1008},{"s":47550,"g":"HC","v":0.09},{"s":47730,"g":"HC","v":0.08},{"s":47860,"g":"HC","v":0.085},{"s":47990,"g":"HC","v":0.0904},{"s":48200,"g":"HC","v":0.1},{"s":48470,"g":"HC","v":0.1089},{"s":48650,"g":"HC","v":0.118},{"s":48850,"g":"HC","v":0.1273},{"s":48940,"g":"HC","v":0.135},{"s":49030,"g":"HC","v":0.1412},{"s":49130,"g":"HC","v":0.138},{"s":49220,"g":"HC","v":0.1343},{"s":49300,"g":"HC","v":0.14},{"s":49400,"g":"HC","v":0.1389},{"s":49550,"g":"HC","v":0.137},{"s":49700,"g":"HC","v":0.1343},{"s":50000,"g":"HC","v":0.132},
   {"s":2000,"g":"mHC","v":0.21},{"s":2200,"g":"mHC","v":0.197},{"s":2400,"g":"mHC","v":0.203},{"s":2600,"g":"mHC","v":0.198},{"s":2800,"g":"mHC","v":0.201},{"s":3000,"g":"mHC","v":0.196},{"s":3083,"g":"mHC","v":0.1896},{"s":3220,"g":"mHC","v":0.1826},{"s":3380,"g":"mHC","v":0.176},{"s":3512,"g":"mHC","v":0.17},{"s":3650,"g":"mHC","v":0.1675},{"s":3793,"g":"mHC","v":0.1665},{"s":3950,"g":"mHC","v":0.162},{"s":4075,"g":"mHC","v":0.1595},{"s":4200,"g":"mHC","v":0.161},{"s":4365,"g":"mHC","v":0.155},{"s":4505,"g":"mHC","v":0.149},{"s":4620,"g":"mHC","v":0.151},{"s":4733,"g":"mHC","v":0.1456},{"s":4845,"g":"mHC","v":0.149},{"s":5015,"g":"mHC","v":0.1445},{"s":5220,"g":"mHC","v":0.1387},{"s":5400,"g":"mHC","v":0.138},{"s":5647,"g":"mHC","v":0.1368},{"s":5900,"g":"mHC","v":0.135},{"s":6100,"g":"mHC","v":0.133},{"s":6213,"g":"mHC","v":0.1318},{"s":6440,"g":"mHC","v":0.141},{"s":6640,"g":"mHC","v":0.1368},{"s":6800,"g":"mHC","v":0.13},{"s":6930,"g":"mHC","v":0.126},{"s":7100,"g":"mHC","v":0.127},{"s":7355,"g":"mHC","v":0.1237},{"s":7640,"g":"mHC","v":0.125},{"s":7920,"g":"mHC","v":0.119},{"s":8100,"g":"mHC","v":0.121},{"s":8345,"g":"mHC","v":0.1195},{"s":8630,"g":"mHC","v":0.1156},{"s":8850,"g":"mHC","v":0.1175},{"s":9060,"g":"mHC","v":0.1165},{"s":9300,"g":"mHC","v":0.115},{"s":9490,"g":"mHC","v":0.1132},{"s":9700,"g":"mHC","v":0.114},{"s":9920,"g":"mHC","v":0.111},{"s":10200,"g":"mHC","v":0.1115},{"s":10480,"g":"mHC","v":0.11},{"s":10750,"g":"mHC","v":0.1095},{"s":11054,"g":"mHC","v":0.1086},{"s":11250,"g":"mHC","v":0.1075},{"s":11480,"g":"mHC","v":0.1051},{"s":11700,"g":"mHC","v":0.106},{"s":11910,"g":"mHC","v":0.104},{"s":12100,"g":"mHC","v":0.1045},{"s":12335,"g":"mHC","v":0.1028},{"s":12600,"g":"mHC","v":0.1032},{"s":13050,"g":"mHC","v":0.1015},{"s":13300,"g":"mHC","v":0.102},{"s":13600,"g":"mHC","v":0.1012},{"s":13900,"g":"mHC","v":0.1021},{"s":14190,"g":"mHC","v":0.0994},{"s":14400,"g":"mHC","v":0.1},{"s":14600,"g":"mHC","v":0.099},{"s":15040,"g":"mHC","v":0.0975},{"s":15250,"g":"mHC","v":0.0985},{"s":15470,"g":"mHC","v":0.0982},{"s":15700,"g":"mHC","v":0.0965},{"s":15900,"g":"mHC","v":0.0947},{"s":16200,"g":"mHC","v":0.096},{"s":16460,"g":"mHC","v":0.095},{"s":16750,"g":"mHC","v":0.0945},{"s":17030,"g":"mHC","v":0.0936},{"s":17300,"g":"mHC","v":0.094},{"s":17600,"g":"mHC","v":0.0925},{"s":17900,"g":"mHC","v":0.093},{"s":18170,"g":"mHC","v":0.0924},{"s":18450,"g":"mHC","v":0.0943},{"s":18740,"g":"mHC","v":0.0912},{"s":19000,"g":"mHC","v":0.0915},{"s":19310,"g":"mHC","v":0.0896},{"s":19590,"g":"mHC","v":0.0918},{"s":19850,"g":"mHC","v":0.09},{"s":20160,"g":"mHC","v":0.0896},{"s":20450,"g":"mHC","v":0.0905},{"s":20730,"g":"mHC","v":0.09},{"s":21000,"g":"mHC","v":0.089},{"s":21300,"g":"mHC","v":0.0878},{"s":21500,"g":"mHC","v":0.089},{"s":21730,"g":"mHC","v":0.0905},{"s":21950,"g":"mHC","v":0.0885},{"s":22160,"g":"mHC","v":0.0878},{"s":22450,"g":"mHC","v":0.087},{"s":22730,"g":"mHC","v":0.0866},{"s":23000,"g":"mHC","v":0.0875},{"s":23300,"g":"mHC","v":0.0878},{"s":23580,"g":"mHC","v":0.0855},{"s":23850,"g":"mHC","v":0.087},{"s":24150,"g":"mHC","v":0.0882},{"s":24450,"g":"mHC","v":0.086},{"s":24720,"g":"mHC","v":0.0855},{"s":25000,"g":"mHC","v":0.086},{"s":25290,"g":"mHC","v":0.0843},{"s":25500,"g":"mHC","v":0.0855},{"s":25720,"g":"mHC","v":0.085},{"s":25950,"g":"mHC","v":0.0835},{"s":26150,"g":"mHC","v":0.0827},{"s":26430,"g":"mHC","v":0.0832},{"s":26720,"g":"mHC","v":0.0843},{"s":27000,"g":"mHC","v":0.0835},{"s":27280,"g":"mHC","v":0.0836},{"s":27500,"g":"mHC","v":0.0828},{"s":27710,"g":"mHC","v":0.082},{"s":27900,"g":"mHC","v":0.0835},{"s":28135,"g":"mHC","v":0.085},{"s":28400,"g":"mHC","v":0.083},{"s":28700,"g":"mHC","v":0.0832},{"s":29000,"g":"mHC","v":0.0825},{"s":29270,"g":"mHC","v":0.082},{"s":29550,"g":"mHC","v":0.0815},{"s":29800,"g":"mHC","v":0.083},{"s":29990,"g":"mHC","v":0.106},{"s":30150,"g":"mHC","v":0.087},{"s":30270,"g":"mHC","v":0.0832},{"s":30500,"g":"mHC","v":0.083},{"s":30700,"g":"mHC","v":0.0825},{"s":31000,"g":"mHC","v":0.0815},{"s":31270,"g":"mHC","v":0.0808},{"s":31500,"g":"mHC","v":0.0812},{"s":31700,"g":"mHC","v":0.0804},{"s":31900,"g":"mHC","v":0.0812},{"s":32120,"g":"mHC","v":0.0808},{"s":32350,"g":"mHC","v":0.0795},{"s":32550,"g":"mHC","v":0.078},{"s":32800,"g":"mHC","v":0.08},{"s":33000,"g":"mHC","v":0.0805},{"s":33200,"g":"mHC","v":0.0843},{"s":33400,"g":"mHC","v":0.081},{"s":33540,"g":"mHC","v":0.0804},{"s":33750,"g":"mHC","v":0.08},{"s":33970,"g":"mHC","v":0.079},{"s":34200,"g":"mHC","v":0.08},{"s":34400,"g":"mHC","v":0.0943},{"s":34550,"g":"mHC","v":0.083},{"s":34680,"g":"mHC","v":0.0808},{"s":34950,"g":"mHC","v":0.08},{"s":35250,"g":"mHC","v":0.079},{"s":35550,"g":"mHC","v":0.0795},{"s":35820,"g":"mHC","v":0.079},{"s":36050,"g":"mHC","v":0.0782},{"s":36250,"g":"mHC","v":0.0774},{"s":36450,"g":"mHC","v":0.0785},{"s":36680,"g":"mHC","v":0.079},{"s":36900,"g":"mHC","v":0.078},{"s":37110,"g":"mHC","v":0.0785},{"s":37390,"g":"mHC","v":0.0762},{"s":37590,"g":"mHC","v":0.106},{"s":37700,"g":"mHC","v":0.088},{"s":37820,"g":"mHC","v":0.0785},{"s":38100,"g":"mHC","v":0.078},{"s":38400,"g":"mHC","v":0.0774},{"s":38600,"g":"mHC","v":0.078},{"s":38820,"g":"mHC","v":0.0785},{"s":39000,"g":"mHC","v":0.08},{"s":39180,"g":"mHC","v":0.0878},{"s":39330,"g":"mHC","v":0.085},{"s":39480,"g":"mHC","v":0.0797},{"s":39650,"g":"mHC","v":0.07},{"s":39810,"g":"mHC","v":0.0462},{"s":39950,"g":"mHC","v":0.0508},{"s":40100,"g":"mHC","v":0.048},{"s":40240,"g":"mHC","v":0.06},{"s":40380,"g":"mHC","v":0.0462},{"s":40520,"g":"mHC","v":0.047},{"s":40670,"g":"mHC","v":0.0508},{"s":40800,"g":"mHC","v":0.047},{"s":40950,"g":"mHC","v":0.0439},{"s":41150,"g":"mHC","v":0.0448},{"s":41380,"g":"mHC","v":0.045},{"s":41600,"g":"mHC","v":0.0446},{"s":41800,"g":"mHC","v":0.045},{"s":42100,"g":"mHC","v":0.0452},{"s":42370,"g":"mHC","v":0.0458},{"s":42650,"g":"mHC","v":0.0455},{"s":42940,"g":"mHC","v":0.0458},{"s":43200,"g":"mHC","v":0.046},{"s":43510,"g":"mHC","v":0.0466},{"s":43700,"g":"mHC","v":0.046},{"s":43940,"g":"mHC","v":0.0462},{"s":44080,"g":"mHC","v":0.05},{"s":44220,"g":"mHC","v":0.0647},{"s":44370,"g":"mHC","v":0.054},{"s":44500,"g":"mHC","v":0.0489},{"s":44650,"g":"mHC","v":0.047},{"s":44790,"g":"mHC","v":0.045},{"s":44930,"g":"mHC","v":0.04},{"s":45075,"g":"mHC","v":0.0369},{"s":45400,"g":"mHC","v":0.037},{"s":45790,"g":"mHC","v":0.0369},{"s":46100,"g":"mHC","v":0.0375},{"s":46350,"g":"mHC","v":0.0373},{"s":46600,"g":"mHC","v":0.039},{"s":46780,"g":"mHC","v":0.053},{"s":46880,"g":"mHC","v":0.042},{"s":46990,"g":"mHC","v":0.038},{"s":47300,"g":"mHC","v":0.0385},{"s":47640,"g":"mHC","v":0.038},{"s":47900,"g":"mHC","v":0.0395},{"s":48200,"g":"mHC","v":0.0419},{"s":48400,"g":"mHC","v":0.04},{"s":48630,"g":"mHC","v":0.0385},{"s":48850,"g":"mHC","v":0.039},{"s":49060,"g":"mHC","v":0.0392},{"s":49250,"g":"mHC","v":0.042},{"s":49430,"g":"mHC","v":0.0508},{"s":49700,"g":"mHC","v":0.0505},{"s":50000,"g":"mHC","v":0.0497}
  ]
 },
 "hconcat": [
  {
   "width": 562, "height": 288,
   "data": {"name": "loss"},
   "title": {"text": "(a) Absolute Training Loss Gap vs. Training Steps", "orient": "bottom", "fontSize": 19.5, "fontWeight": "normal", "color": "#000", "offset": 10},
   "mark": {"type": "line", "clip": true, "strokeWidth": 1.8},
   "encoding": {
    "x": {"field": "s", "type": "quantitative", "scale": {"domain": [2000, 50000], "nice": false, "zero": false}, "axis": {"values": [10000, 20000, 30000, 40000, 50000], "format": "d", "title": "Steps", "labelFlush": false, "gridOpacity": {"condition": {"test": "datum.value >= 50000", "value": 0}, "value": 1}}},
    "y": {"field": "v", "type": "quantitative", "scale": {"domain": [-0.06, 0.015], "nice": false, "zero": false}, "axis": {"values": [-0.06, -0.04, -0.02, 0], "labelExpr": "replace(format(datum.value, '.2f'), '\u2212', '-')", "title": "Absolute Loss Gap", "labelFlush": false}},
    "color": {"field": "g", "type": "nominal", "scale": {"domain": ["Baseline", "HC", "mHC"], "range": ["#666666", "#aec7e8", "#1f77b4"]}, "legend": {"orient": "none", "legendX": 419, "legendY": 195}}
   }
  },
  {
   "width": 562, "height": 288,
   "data": {"name": "grad"},
   "title": {"text": "(b) Gradient Norm vs. Training Steps", "orient": "bottom", "fontSize": 19.5, "fontWeight": "normal", "color": "#000", "offset": 10},
   "mark": {"type": "line", "clip": true, "strokeWidth": 1.8},
   "encoding": {
    "x": {"field": "s", "type": "quantitative", "scale": {"domain": [2000, 50000], "nice": false, "zero": false}, "axis": {"values": [10000, 20000, 30000, 40000, 50000], "format": "d", "title": "Steps", "labelFlush": false, "gridOpacity": {"condition": {"test": "datum.value >= 50000", "value": 0}, "value": 1}}},
    "y": {"field": "v", "type": "quantitative", "scale": {"domain": [0, 0.2], "nice": false}, "axis": {"values": [0, 0.05, 0.1, 0.15, 0.2], "format": ".2f", "title": "Grad Norm", "labelFlush": false, "gridOpacity": {"condition": {"test": "datum.value >= 0.2", "value": 0}, "value": 1}}},
    "color": {"field": "g", "type": "nominal", "scale": {"domain": ["Baseline", "HC", "mHC"], "range": ["#666666", "#aec7e8", "#1f77b4"]}, "legend": {"orient": "none", "legendX": 417, "legendY": 9}}
   }
  }
 ],
 "resolve": {"scale": {"y": "independent", "x": "independent"}, "legend": {"color": "independent"}}
}
